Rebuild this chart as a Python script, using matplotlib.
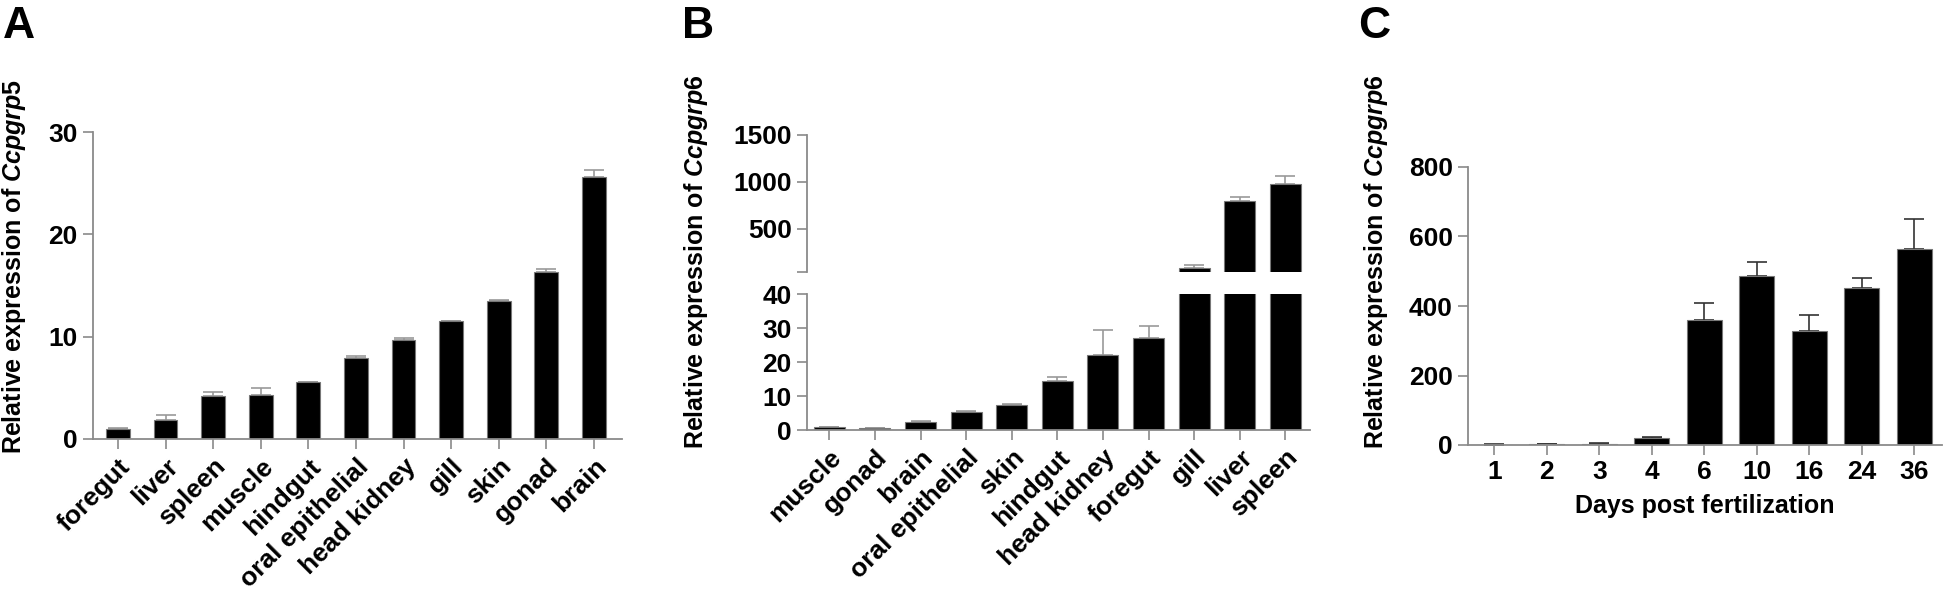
import matplotlib
matplotlib.use("Agg")
import matplotlib.pyplot as plt
import numpy as np

# --------------------
# DATA
# --------------------
a_tissues = ['foregut', 'liver', 'spleen', 'muscle', 'hindgut', 'oral epithelial',
             'head kidney', 'gill', 'skin', 'gonad', 'brain']
a_mean = [1.0, 1.9, 4.2, 4.3, 5.55, 7.9, 9.65, 11.5, 13.45, 16.3, 25.6]
a_err = [0.05, 0.4, 0.35, 0.7, 0.05, 0.2, 0.25, 0.05, 0.15, 0.35, 0.7]

b_tissues = ['muscle', 'gonad', 'brain', 'oral epithelial', 'skin', 'hindgut',
             'head kidney', 'foregut', 'gill', 'liver', 'spleen']
b_mean = [0.9, 0.5, 2.45, 5.2, 7.35, 14.4, 22.1, 27.0, 80, 797, 978]
b_err = [0.1, 0.1, 0.15, 0.5, 0.4, 1.3, 7.3, 3.7, 35, 38, 88]

c_days = ['1', '2', '3', '4', '6', '10', '16', '24', '36']
c_mean = [1, 2, 4, 20, 361, 487, 328, 452, 565]
c_err = [0.5, 0.5, 1, 3, 48, 39, 47, 29, 84]

# --------------------
# STYLE
# --------------------
plt.rcParams['font.family'] = ['Liberation Sans', 'DejaVu Sans']
plt.rcParams['font.weight'] = 'bold'
plt.rcParams['mathtext.fontset'] = 'custom'
plt.rcParams['mathtext.it'] = 'Liberation Sans:italic'
plt.rcParams['mathtext.rm'] = 'Liberation Sans'

SPINE = '#8a8a8a'
TICK_FS = 19
LAB_FS = 18

W, H = 1946, 594
fig = plt.figure(figsize=(W / 100, H / 100), dpi=100)


def box(x0, x1, ytop, ybot):
    # pixel box -> figure fraction
    return [x0 / W, 1 - ybot / H, (x1 - x0) / W, (ybot - ytop) / H]


def style(ax, bottom=True):
    for s in ['top', 'right']:
        ax.spines[s].set_visible(False)
    ax.spines['left'].set_color(SPINE)
    ax.spines['left'].set_linewidth(1.3)
    ax.spines['bottom'].set_color(SPINE)
    ax.spines['bottom'].set_linewidth(1.3)
    if not bottom:
        ax.spines['bottom'].set_visible(False)
        ax.tick_params(axis='x', bottom=False, labelbottom=False)
    ax.tick_params(axis='both', colors=SPINE, length=7, width=1.2,
                   labelcolor='black', labelsize=TICK_FS, pad=4)


def bars(ax, n, mean, err, width, ecol, keep=None):
    x = np.arange(n)
    ax.bar(x, mean, width=width, color='black', edgecolor='#777777', linewidth=0.8, zorder=2)
    m = np.ones(n, bool) if keep is None else keep
    ax.errorbar(x[m], np.array(mean)[m], yerr=[np.zeros(m.sum()), np.array(err)[m]],
                fmt='none', ecolor=ecol, elinewidth=1.2, capsize=7, capthick=1.2, zorder=1)
    return x


# --------------------
# PANEL A
# --------------------
axA = fig.add_axes(box(93, 622, 132, 439))
xA = bars(axA, len(a_tissues), a_mean, a_err, 0.5, '#999999')
axA.set_xlim(-0.525, 10.59)
axA.set_ylim(0, 30)
axA.set_yticks([0, 10, 20, 30])
axA.set_xticks(xA)
axA.set_xticklabels(a_tissues, rotation=45, ha='right', rotation_mode='anchor')
style(axA)

# --------------------
# PANEL B (broken axis)
# --------------------
axB = fig.add_axes(box(807, 1310, 294, 430))
axBt = fig.add_axes(box(807, 1310, 135, 272))
big = np.array(b_mean) > 40
bars(axB, len(b_tissues), b_mean, b_err, 0.68, '#999999', keep=~big)
bars(axBt, len(b_tissues), b_mean, b_err, 0.68, '#999999', keep=big)
for ax in (axB, axBt):
    ax.set_xlim(-0.49, 10.54)
axB.set_ylim(0, 40)
axB.set_yticks([0, 10, 20, 30, 40])
axB.set_xticks(np.arange(len(b_tissues)))
axB.set_xticklabels(b_tissues, rotation=45, ha='right', rotation_mode='anchor')
axBt.set_ylim(40, 1500)
axBt.set_yticks([40, 500, 1000, 1500])
axBt.set_yticklabels(['', '500', '1000', '1500'])
style(axB)
style(axBt, bottom=False)

# --------------------
# PANEL C
# --------------------
axC = fig.add_axes(box(1468, 1942, 167, 445))
xC = bars(axC, len(c_days), c_mean, c_err, 0.67, '#333333')
axC.set_xlim(-0.5, 8.53)
axC.set_ylim(0, 800)
axC.set_yticks([0, 200, 400, 600, 800])
axC.set_xticks(xC)
axC.set_xticklabels(c_days)
style(axC)
axC.set_xlabel('Days post fertilization', fontsize=18, fontweight='bold', labelpad=7)

# --------------------
# LABELS
# --------------------
fig.text(14 / W, 1 - 266 / H, r'Relative expression of $\mathit{Ccpgrp5}$',
         rotation=90, ha='center', va='center', fontsize=LAB_FS, fontweight='bold')
fig.text(696 / W, 1 - 262 / H, r'Relative expression of $\mathit{Ccpgrp6}$',
         rotation=90, ha='center', va='center', fontsize=LAB_FS, fontweight='bold')
fig.text(1376 / W, 1 - 262 / H, r'Relative expression of $\mathit{Ccpgrp6}$',
         rotation=90, ha='center', va='center', fontsize=LAB_FS, fontweight='bold')

for letter, px in [('A', 3), ('B', 682), ('C', 1358)]:
    fig.text(px / W, 1 - 6 / H, letter, ha='left', va='top', fontsize=32, fontweight='bold')

fig.savefig('out.png', dpi=100)
